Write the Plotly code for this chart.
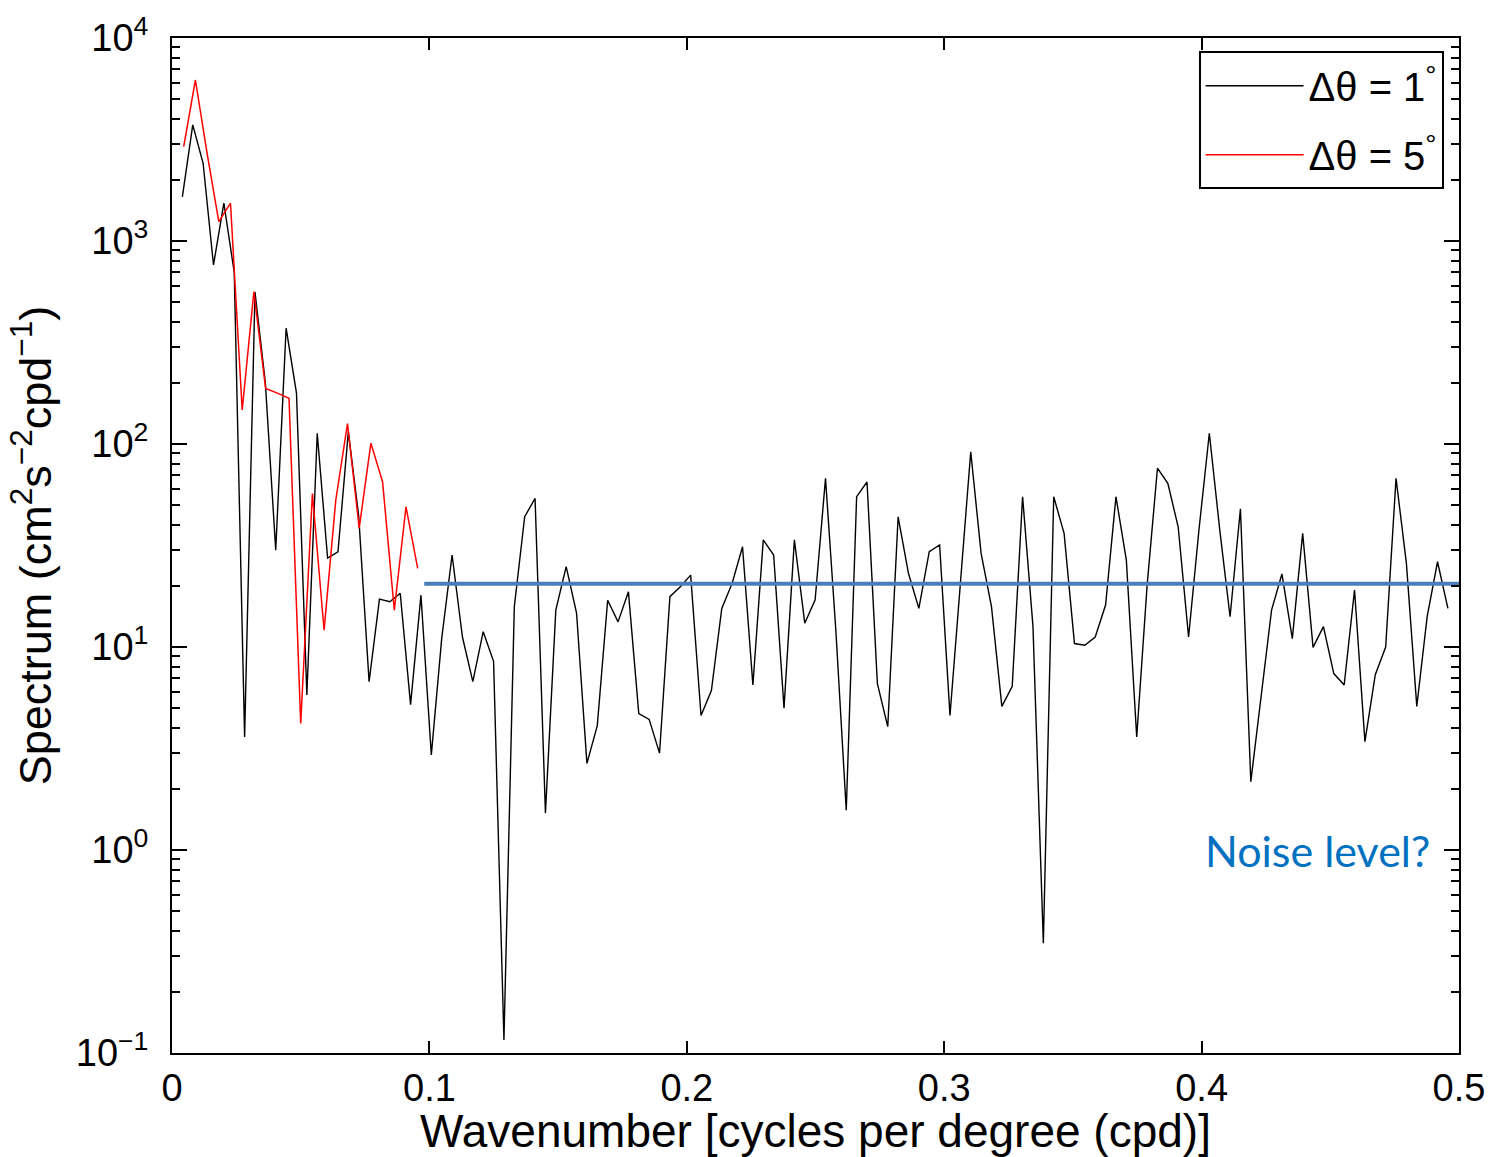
import plotly.graph_objects as go

# ---- data ----
step_1deg = 0.00403          # wavenumber spacing of the 1-degree spectrum (cpd)
spectrum_1deg = [
    1650, 3730, 2415, 762, 1535, 700, 3.6, 560, 200, 30,
    372, 178, 5.8, 113, 27.4, 29.4, 115, 44, 6.75, 17.2,
    16.7, 18.4, 5.2, 18, 2.94, 11, 28.4, 11.2, 6.75, 11.9,
    8.5, 0.116, 15.8, 43.8, 54, 1.52, 15.2, 24.9, 14.7, 2.67,
    4.1, 17, 13.3, 18.7, 4.7, 4.4, 3.0, 17.7, 19.8, 22.6,
    4.6, 6.1, 15.5, 20.6, 31.2, 6.5, 33.7, 28.4, 5.0, 33.7,
    13.1, 17.1, 67.8, 12, 1.57, 55, 65, 6.6, 4.05, 43.8,
    23, 15.5, 29.5, 31.8, 4.6, 21, 91.6, 28.9, 15.8, 5.1,
    6.4, 55, 12.6, 0.347, 55, 36.3, 10.4, 10.2, 11.2, 16.1,
    55, 26.8, 3.6, 20, 76, 64, 39, 11.2, 37.7, 113,
    38, 14.1, 48, 2.17, 5.9, 15.2, 22.9, 11, 36.3, 9.96,
    12.6, 7.4, 6.5, 19.1, 3.42, 7.3, 10.0, 67.8, 25.8, 5.1,
    14.1, 26.3, 15.5,
]
wavenumber_1deg = [round((i + 1) * step_1deg, 6) for i in range(len(spectrum_1deg))]

step_5deg = 1 / 220
spectrum_5deg = [
    2915, 6210, 2700, 1245, 1535, 147, 563, 188, 178, 168,
    4.2, 57, 12.1, 53, 126, 38.5, 101, 65, 15.2, 49, 24.4,
]
wavenumber_5deg = [round((i + 1) * step_5deg, 6) for i in range(len(spectrum_5deg))]

noise_level = 20.5
noise_x = [0.098, 0.5]

x_ticks = [0, 0.1, 0.2, 0.3, 0.4, 0.5]
x_ticklabels = ["0", "0.1", "0.2", "0.3", "0.4", "0.5"]
y_ticks = [0.1, 1, 10, 100, 1000, 10000]
y_ticklabels = ["10<sup>\u22121</sup>", "10<sup>0</sup>", "10<sup>1</sup>",
                "10<sup>2</sup>", "10<sup>3</sup>", "10<sup>4</sup>"]
y_minor = [m * d for d in [0.1, 1, 10, 100, 1000] for m in range(2, 10)]

FONT = "Liberation Sans, Arial, sans-serif"

fig = go.Figure()
fig.add_trace(go.Scatter(
    x=wavenumber_1deg, y=spectrum_1deg, mode="lines",
    line=dict(color="black", width=1.4), legendgroup="a",
    name="\u0394\u03b8 = 1<sup>\u00b0</sup>"))
fig.add_trace(go.Scatter(
    x=wavenumber_5deg, y=spectrum_5deg, mode="lines",
    line=dict(color="#ff0000", width=1.5), legendgroup="b",
    name="\u0394\u03b8 = 5<sup>\u00b0</sup>"))
fig.add_trace(go.Scatter(
    x=noise_x, y=[noise_level, noise_level], mode="lines",
    line=dict(color="#4a7ebb", width=4), showlegend=False, hoverinfo="skip"))

fig.add_annotation(
    x=0.4895, y=0, xref="x", yref="y", text="Noise level?",
    showarrow=False, xanchor="right", yanchor="middle",
    font=dict(family="Lato, Open Sans, sans-serif", size=43, color="#0070c0"))

fig.update_layout(
    width=1497, height=1157,
    margin=dict(l=172, r=38, t=38, b=104),
    paper_bgcolor="white", plot_bgcolor="white",
    font=dict(family=FONT, color="black", size=38),
    showlegend=True,
    legend=dict(
        x=0.988, y=0.987, xanchor="right", yanchor="top",
        bgcolor="white", bordercolor="black", borderwidth=2,
        font=dict(family=FONT, size=40, color="black"),
        itemwidth=98, traceorder="grouped", tracegroupgap=14,
    ),
    xaxis=dict(
        range=[0, 0.5], tickvals=x_ticks, ticktext=x_ticklabels,
        ticks="inside", ticklen=12, tickwidth=1.5, tickcolor="black",
        showline=True, linecolor="black", linewidth=2, mirror="allticks",
        showgrid=False, zeroline=False,
        tickfont=dict(family=FONT, size=38),
        title=dict(text="Wavenumber [cycles per degree (cpd)]",
                   font=dict(family=FONT, size=46), standoff=2),
    ),
    yaxis=dict(
        type="log", range=[-1, 4], tickvals=y_ticks, ticktext=y_ticklabels,
        ticks="inside", ticklen=15, tickwidth=1.5, tickcolor="black",
        showline=True, linecolor="black", linewidth=2, mirror="allticks",
        showgrid=False, zeroline=False, ticklabelstandoff=14,
        tickfont=dict(family=FONT, size=38),
        minor=dict(tickvals=y_minor, ticks="inside", ticklen=8,
                   tickwidth=1.5, tickcolor="black", showgrid=False),
        title=dict(text="Spectrum (cm<sup>2</sup>s<sup>\u22122</sup>cpd<sup>\u22121</sup>)",
                   font=dict(family=FONT, size=45), standoff=10),
    ),
)

fig.write_html("out.html")
